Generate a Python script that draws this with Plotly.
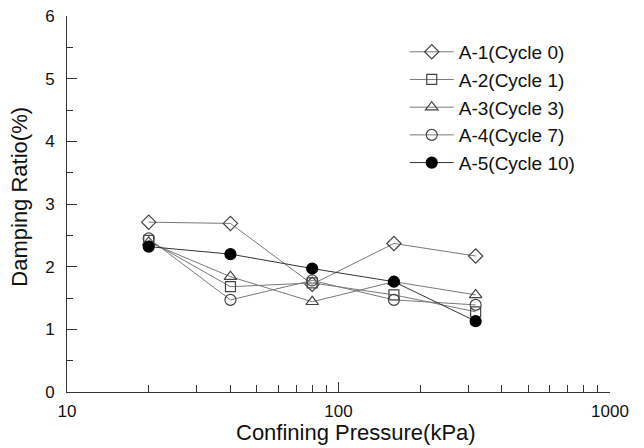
import plotly.graph_objects as go

# Confining pressure steps (kPa)
pressure = [20, 40, 80, 160, 320]

# Damping ratio (%) for each specimen
series_names = ["A-1(Cycle 0)", "A-2(Cycle 1)", "A-3(Cycle 3)", "A-4(Cycle 7)", "A-5(Cycle 10)"]
a1 = [2.71, 2.69, 1.72, 2.37, 2.17]
a2 = [2.42, 1.68, 1.74, 1.55, 1.28]
a3 = [2.39, 1.84, 1.44, 1.76, 1.55]
a4 = [2.45, 1.47, 1.78, 1.47, 1.39]
a5 = [2.32, 2.20, 1.97, 1.76, 1.13]

x_ticks = [10, 100, 1000]
x_minor = [20, 30, 40, 50, 60, 70, 80, 90, 200, 300, 400, 500, 600, 700, 800, 900]

FONT = "Liberation Sans, Arial, sans-serif"
TEXT = "#111111"
AXIS = "#333333"

styles = [
    dict(symbol="diamond-open", size=11, line="#7a7a7a", marker="#444444"),
    dict(symbol="square-open", size=10, line="#7a7a7a", marker="#444444"),
    dict(symbol="triangle-up-open", size=11, line="#7a7a7a", marker="#444444"),
    dict(symbol="circle-open", size=11, line="#7a7a7a", marker="#444444"),
    dict(symbol="circle", size=11, line="#333333", marker="#000000"),
]

fig = go.Figure()
for name, vals, st in zip(series_names, [a1, a2, a3, a4, a5], styles):
    fig.add_trace(go.Scatter(
        x=pressure, y=vals, name=name, mode="lines+markers",
        line=dict(color=st["line"], width=1),
        marker=dict(symbol=st["symbol"], size=st["size"], color=st["marker"],
                    line=dict(color=st["marker"], width=1.2)),
    ))

fig.update_layout(
    width=644, height=448,
    margin=dict(l=67, r=34, t=16, b=56, autoexpand=False),
    paper_bgcolor="white", plot_bgcolor="white",
    font=dict(family=FONT, size=17, color=TEXT),
    showlegend=True,
    legend=dict(x=0.622, y=0.955, xanchor="left", yanchor="top",
                bgcolor="rgba(0,0,0,0)", borderwidth=0,
                font=dict(family=FONT, size=19, color=TEXT),
                itemwidth=44),
    xaxis=dict(
        type="log", range=[1, 3], automargin=False,
        tickvals=x_ticks, ticktext=[str(v) for v in x_ticks],
        ticks="inside", ticklen=10, tickcolor=AXIS, tickwidth=1,
        showline=True, linecolor=AXIS, linewidth=1,
        showgrid=False, zeroline=False,
        minor=dict(tickvals=x_minor, ticks="inside", ticklen=7,
                   tickcolor=AXIS, showgrid=False),
        tickfont=dict(size=17),
        ticklabelstandoff=4,
    ),
    yaxis=dict(
        range=[0, 6], dtick=1, automargin=False,
        ticks="inside", ticklen=10, tickcolor=AXIS, tickwidth=1,
        showline=True, linecolor=AXIS, linewidth=1,
        showgrid=False, zeroline=False,
        minor=dict(dtick=0.5, ticks="inside", ticklen=6,
                   tickcolor=AXIS, showgrid=False),
        tickfont=dict(size=17),
        ticklabelstandoff=8,
    ),
    annotations=[
        dict(text="Confining Pressure(kPa)", xref="paper", yref="paper",
             x=0.532, y=-0.108, xanchor="center", yanchor="middle",
             showarrow=False, font=dict(size=22, color=TEXT)),
        dict(text="Damping Ratio(%)", xref="paper", yref="paper",
             x=-0.088, y=0.52, xanchor="center", yanchor="middle",
             textangle=-90, showarrow=False, font=dict(size=22, color=TEXT)),
    ],
)

fig.write_html("out.html")
